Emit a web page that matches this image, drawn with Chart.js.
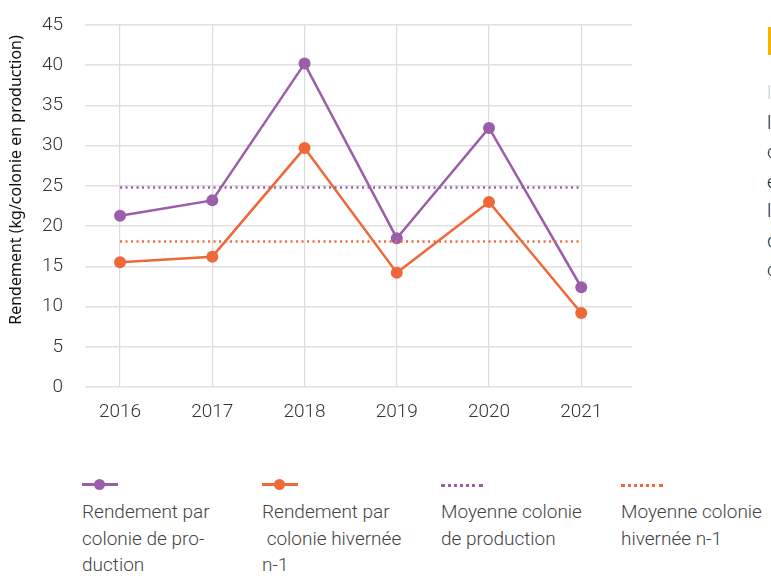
<!DOCTYPE html>
<html lang="fr">
<head>
<meta charset="UTF-8">
<title>Rendement</title>
<script src="https://cdn.jsdelivr.net/npm/chart.js"></script>
<style>
  body { margin: 0; background: #fff; width: 771px; height: 584px; overflow: hidden; position: relative;
         font-family: Roboto, "Noto Sans", sans-serif; }
  .chart-box { position: absolute; left: 0; top: 0; width: 640px; height: 440px; }
  .legend { position: absolute; top: 478px; left: 0; width: 771px; }
  .item { position: absolute; top: 0; color: #444; font-size: 19px; line-height: 26.5px; font-weight: 300; }
  .icon { position: relative; height: 14px; margin-bottom: 7px; }
  .icon .ln { position: absolute; left: 0; top: 5px; height: 3px; }
  .icon .dot { position: absolute; top: 1px; width: 11px; height: 11px; border-radius: 50%; }
  .icon .dots { position: absolute; left: 0; top: 6px; width: 42px; border-top: 3px dotted; }
  .side-bar { position: absolute; left: 768px; top: 27px; width: 4px; height: 28px; background: #f5b400; }
  .side-text { position: absolute; left: 767px; top: 78px; color: #222; font-size: 19px; line-height: 29.5px;
               white-space: nowrap; font-weight: 300; }
</style>
</head>
<body>
<div class="chart-box"><canvas id="rendChart"></canvas></div>

<div class="legend">
  <div class="item" style="left:82px">
    <div class="icon"><div class="ln" style="width:36px;background:#9b5ea8"></div><div class="dot" style="left:12px;background:#9b5ea8"></div></div>
    Rendement par<br>colonie de pro-<br>duction
  </div>
  <div class="item" style="left:262px">
    <div class="icon"><div class="ln" style="width:36px;background:#ee693a"></div><div class="dot" style="left:12px;background:#ee693a"></div></div>
    Rendement par<br>&nbsp;colonie hivernée<br>n-1
  </div>
  <div class="item" style="left:441px">
    <div class="icon"><div class="dots" style="border-color:#9b5ea8"></div></div>
    Moyenne colonie<br>de production
  </div>
  <div class="item" style="left:621px">
    <div class="icon"><div class="dots" style="border-color:#ee693a"></div></div>
    Moyenne colonie<br>hivernée n-1
  </div>
</div>

<div class="side-bar"></div>
<div class="side-text">
  <span style="color:#ccc">l</span><br>le<br>cette<br>est<br>le<br>de<br>cette
</div>

<script>
const years = [2016, 2017, 2018, 2019, 2020, 2021];
const rendementProduction = [21.3, 23.2, 40.2, 18.5, 32.2, 12.4];
const rendementHivernee = [15.5, 16.2, 29.7, 14.2, 23.0, 9.2];
const moyenneProduction = 24.8;
const moyenneHivernee = 18.1;
const yTicks = [0, 5, 10, 15, 20, 25, 30, 35, 40, 45];

const violet = "#9b5ea8";
const orange = "#ee693a";
const tickFont = { family: "Roboto, 'Noto Sans', sans-serif", size: 19, weight: 300 };

function pts(values) {
    return years.map((y, i) => ({ x: y, y: values[i] }));
}
function flat(v) {
    return years.map(y => ({ x: y, y: v }));
}

// titre de l'axe Y, dessiné à la main pour le placer comme dans l'original
const yTitle = {
    id: "yTitle",
    afterDraw(chart) {
        const c = chart.ctx;
        c.save();
        c.translate(16, 180);
        c.rotate(-Math.PI / 2);
        c.font = "16px 'Noto Sans', sans-serif";
        c.fillStyle = "#111";
        c.textAlign = "center";
        c.textBaseline = "middle";
        c.fillText("Rendement (kg/colonie en production)", 0, 0);
        c.restore();
    }
};

new Chart(document.getElementById("rendChart"), {
    type: "line",
    data: {
        datasets: [
            { label: "Moyenne colonie de production", data: flat(moyenneProduction), borderColor: violet,
              borderWidth: 2.5, borderDash: [2, 3.5], pointRadius: 0 },
            { label: "Moyenne colonie hivernée n-1", data: flat(moyenneHivernee), borderColor: orange,
              borderWidth: 2.5, borderDash: [2, 3.5], pointRadius: 0 },
            { label: "Rendement par colonie de production", data: pts(rendementProduction), borderColor: violet,
              backgroundColor: violet, borderWidth: 2.5, pointRadius: 6, pointBorderWidth: 0 },
            { label: "Rendement par colonie hivernée n-1", data: pts(rendementHivernee), borderColor: orange,
              backgroundColor: orange, borderWidth: 2.5, pointRadius: 6, pointBorderWidth: 0 }
        ]
    },
    options: {
        responsive: true,
        maintainAspectRatio: false,
        animation: false,
        layout: { padding: { top: 25, right: 8, left: 0, bottom: 0 } },
        plugins: { legend: { display: false }, tooltip: { enabled: false } },
        scales: {
            x: {
                type: "linear",
                min: 2015.62,
                max: 2021.55,
                afterBuildTicks: s => { s.ticks = years.map(v => ({ value: v })); },
                afterFit: s => { s.height = 53; },
                border: { display: false },
                grid: { color: "#dcdcdc", lineWidth: 1.2, drawTicks: false },
                ticks: { color: "#333", font: tickFont, padding: 14, callback: v => String(v) }
            },
            y: {
                min: 0,
                max: 45,
                afterBuildTicks: s => { s.ticks = yTicks.map(v => ({ value: v })); },
                afterFit: s => { s.width = 85; s.paddingTop = 0; s.paddingBottom = 0; },
                border: { display: false },
                grid: { color: "#e0e0e0", lineWidth: 1.6, drawTicks: false },
                ticks: { color: "#333", font: tickFont, padding: 22 }
            }
        }
    },
    plugins: [yTitle]
});
</script>
</body>
</html>
